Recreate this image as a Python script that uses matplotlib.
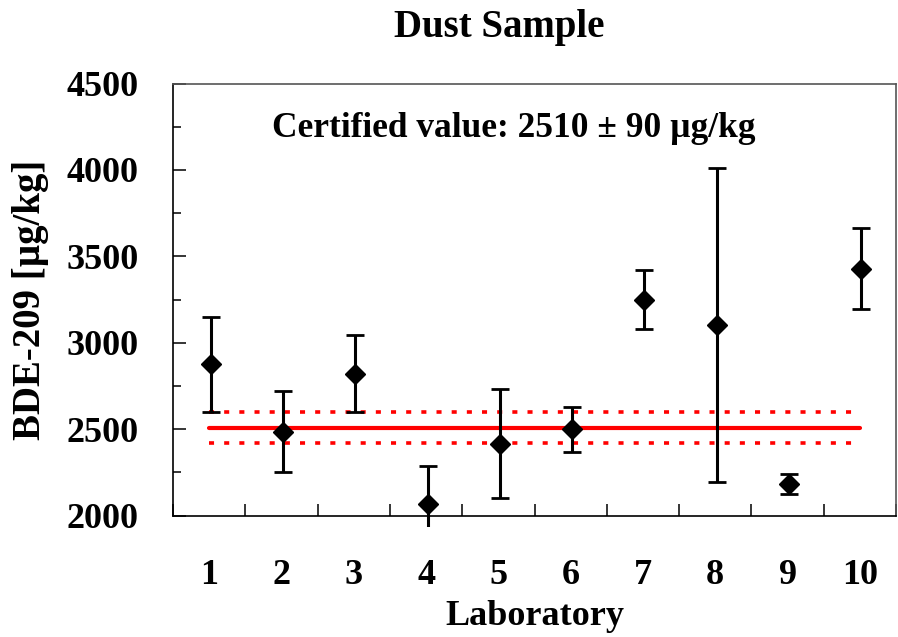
import numpy as np
import matplotlib
matplotlib.use('Agg')
import matplotlib.pyplot as plt
from matplotlib.patches import Rectangle
from matplotlib.ticker import FixedLocator, MultipleLocator, NullFormatter

plt.rcParams['font.family'] = ['Liberation Serif', 'DejaVu Serif']
plt.rcParams['font.weight'] = 'bold'

# values
labs = [1, 2, 3, 4, 5, 6, 7, 8, 9, 10]
lab_labels = ['1', '2', '3', '4', '5', '6', '7', '8', '9', '10']
means = [2876, 2487, 2822, 2069, 2416, 2500, 3250, 3103, 2184, 3428]
errs = [275, 232, 222, 218, 315, 130, 172, 907, 58, 234]

certified = 2510
uncert = 90

fig = plt.figure(figsize=(8.98, 6.37), dpi=100)
ax = fig.add_axes([0.1927, 0.1904, 0.8051, 0.6785])

x = np.array(labs)
# certified value and its uncertainty band
ax.plot([x[0], x[-1]], [certified, certified], color='#ff0000', lw=3.0,
        solid_capstyle='round', zorder=2)
for yb in (certified - uncert, certified + uncert):
    ax.plot([x[0], x[-1]], [yb, yb], color='#ff0000', lw=2.6,
            dashes=(1.4, 2.8), dash_capstyle='butt', zorder=2)

eb = ax.errorbar(x + 0.02, means, yerr=errs, fmt='D', color='black', ms=10.5,
                 mec='black', mfc='black', ecolor='black', elinewidth=2.2,
                 capsize=6.8, capthick=2.0, zorder=3)

# the plot area clips error bars a little below the x axis (as in the original)
clip = Rectangle((0, -0.026), 1, 1.026, transform=ax.transAxes,
                 facecolor='none', edgecolor='none')
for art in eb.lines[1] + eb.lines[2]:
    art.set_clip_path(clip)

ax.set_xlim(0.5, 10.5)
ax.set_ylim(2000, 4500)

# x: ticks on category boundaries, labels at centres
ax.xaxis.set_major_locator(FixedLocator(np.arange(0.5, 11, 1)))
ax.xaxis.set_major_formatter(NullFormatter())
ax.xaxis.set_minor_locator(FixedLocator(x))
ax.set_xticks(x, lab_labels, minor=True)
ax.tick_params(axis='x', which='major', direction='in', length=9, width=1.1)
ax.tick_params(axis='x', which='minor', length=0, pad=31, labelsize=26)

ax.yaxis.set_major_locator(MultipleLocator(500))
ax.yaxis.set_minor_locator(MultipleLocator(250))
ax.tick_params(axis='y', which='major', direction='in', length=9, width=1.1,
               pad=25, labelsize=26)
ax.tick_params(axis='y', which='minor', direction='in', length=5.5, width=1.1)

for s in ax.spines.values():
    s.set_linewidth(1.2)
    s.set_color('black')
ax.spines['top'].set_color('#555555')
ax.spines['right'].set_color('#555555')

ax.set_xlabel('Laboratory', fontsize=26, fontweight='bold', labelpad=6)
ax.set_ylabel('BDE-209 [µg/kg]', fontsize=28, fontweight='bold', labelpad=12)

ax.text(5.216, 4190, 'Certified value: 2510 ± 90 µg/kg', ha='center',
        va='baseline', fontsize=25.5, fontweight='bold')

fig.text(0.5557, 0.9414, 'Dust Sample', ha='center', va='baseline',
         fontsize=28, fontweight='bold')

fig.savefig('out.png', dpi=100)
